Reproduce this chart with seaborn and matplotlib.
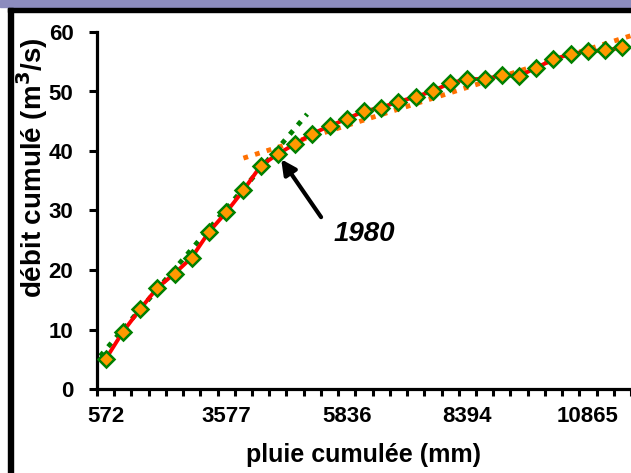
import numpy as np
import pandas as pd
import matplotlib
matplotlib.use("Agg")
import matplotlib.pyplot as plt
import seaborn as sns
from matplotlib.patches import Rectangle

# cumulated rainfall (category axis, only some labels shown)
tick_pos = [0, 7, 14, 21, 28]
tick_labels = ['572', '3577', '5836', '8394', '10865']

# cumulated discharge (m3/s), one value per year
debit = [5.0, 9.6, 13.4, 17.0, 19.4, 22.1, 26.4, 29.7, 33.4, 37.5,
         39.5, 41.2, 42.9, 44.2, 45.4, 46.7, 47.3, 48.3, 49.1, 50.1,
         51.4, 52.1, 52.1, 52.7, 52.6, 54.0, 55.4, 56.3, 56.8, 56.9, 57.4]

# trend lines (category position, value)
trend1_x = [-0.77, 11.7]
trend1_y = [4.0, 46.2]
trend2_x = [8.0, 31.5]
trend2_y = [38.8, 60.3]

df = pd.DataFrame({'i': np.arange(len(debit)), 'debit': debit})

sns.set_style('white')
plt.rcParams['font.family'] = ['Liberation Sans', 'DejaVu Sans']
plt.rcParams['text.color'] = 'black'
plt.rcParams['xtick.color'] = 'black'
plt.rcParams['ytick.color'] = 'black'
plt.rcParams['axes.labelcolor'] = 'black'

fig = plt.figure(figsize=(6.31, 4.73), dpi=100)
ax = fig.add_axes([97 / 631, 84 / 473, 534 / 631, 357 / 473])

# trend lines
ax.plot(trend1_x, trend1_y, color='#008000', lw=3.5, ls=(0, (1, 1.5)), zorder=2)
ax.plot(trend2_x, trend2_y, color='#FF7000', lw=3.5, ls=(0, (1, 1.5)), zorder=2)

sns.lineplot(data=df, x='i', y='debit', ax=ax, color='#FF0000', lw=2.8, zorder=3)
ax.plot(df['i'], df['debit'], ls='none', marker='D', ms=8.5,
        mfc='#FF9900', mec='#008000', mew=1.8, zorder=4)

ax.set_ylim(0, 60)
ax.set_xlim(-0.5, -0.5 + 534 / 17.3)
ax.set_yticks(range(0, 61, 10))
ax.set_xticks(np.arange(-0.5, 31, 1))
ax.set_xticklabels([])
ax.set_xticks(tick_pos, minor=True)
ax.set_xticklabels(tick_labels, minor=True)

for s in ['top', 'right']:
    ax.spines[s].set_visible(False)
for s in ['left', 'bottom']:
    ax.spines[s].set_linewidth(2.3)
    ax.spines[s].set_color('black')

ax.tick_params(axis='x', which='major', direction='out', length=5, width=2.2,
               color='black', bottom=True)
ax.tick_params(axis='x', which='minor', length=0, pad=12, labelsize=16)
ax.tick_params(axis='y', direction='out', length=6, width=2.2, color='black',
               left=True, labelsize=16, pad=11)
for lab in ax.get_xticklabels(minor=True) + ax.get_yticklabels():
    lab.set_fontweight('bold')

ax.set_xlabel('pluie cumulée (mm)', fontsize=18, fontweight='bold', labelpad=12)
ax.set_ylabel('débit cumulé (m$^\\mathbf{3}$/s)', fontsize=20, fontweight='bold')
ax.yaxis.set_label_coords(-0.088, 0.62)
ax.grid(False)

# annotation of the break year
ax.annotate('', xy=(10.1, 39.0), xytext=(12.6, 28.5),
            arrowprops=dict(arrowstyle='-|>', lw=3, color='black', mutation_scale=22))
ax.text(15.0, 26.1, '1980', fontsize=20, fontweight='bold', fontstyle='italic',
        ha='center', va='center')

# slide frame
fig.patches.append(Rectangle((0, 1 - 7 / 473), 1, 7 / 473, transform=fig.transFigure,
                             color='#8c8cbe', zorder=0))
fig.patches.append(Rectangle((8 / 631, 1 - 12.5 / 473), 1, 4.5 / 473, transform=fig.transFigure,
                             color='black', zorder=0))
fig.patches.append(Rectangle((8 / 631, 0), 4.5 / 631, 1 - 8 / 473, transform=fig.transFigure,
                             color='black', zorder=0))

fig.savefig('out.png', dpi=100)
